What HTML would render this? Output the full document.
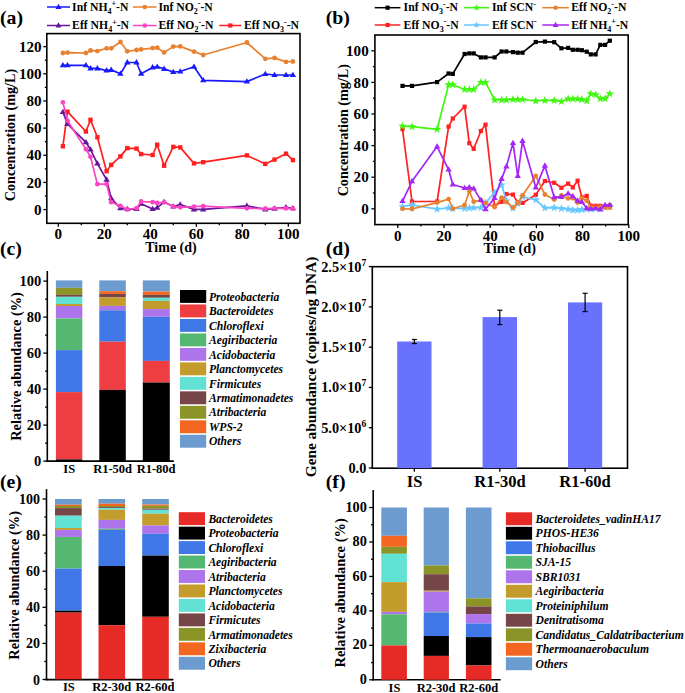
<!DOCTYPE html>
<html><head><meta charset="utf-8"><style>
html,body{margin:0;padding:0;background:#fff;}
svg{display:block;}
text{font-family:"Liberation Serif", serif;fill:#000;}
</style></head><body>
<svg width="685" height="693" viewBox="0 0 685 693">
<rect width="685" height="693" fill="#fff"/>
<text transform="translate(0,24.3) scale(1.1,1)" font-size="18" font-weight="bold">(a)</text>
<rect x="46.8" y="33.6" width="253.20" height="189.70" fill="none" stroke="#000" stroke-width="1.6"/>
<line x1="43.30" y1="209.60" x2="46.80" y2="209.60" stroke="#000" stroke-width="1.3"/>
<text x="41.60" y="214.70" font-size="15.1" text-anchor="end" font-style="normal" font-weight="bold" >0</text>
<line x1="44.80" y1="196.02" x2="46.80" y2="196.02" stroke="#000" stroke-width="1.3"/>
<line x1="43.30" y1="182.44" x2="46.80" y2="182.44" stroke="#000" stroke-width="1.3"/>
<text x="41.60" y="187.54" font-size="15.1" text-anchor="end" font-style="normal" font-weight="bold" >20</text>
<line x1="44.80" y1="168.86" x2="46.80" y2="168.86" stroke="#000" stroke-width="1.3"/>
<line x1="43.30" y1="155.28" x2="46.80" y2="155.28" stroke="#000" stroke-width="1.3"/>
<text x="41.60" y="160.38" font-size="15.1" text-anchor="end" font-style="normal" font-weight="bold" >40</text>
<line x1="44.80" y1="141.70" x2="46.80" y2="141.70" stroke="#000" stroke-width="1.3"/>
<line x1="43.30" y1="128.12" x2="46.80" y2="128.12" stroke="#000" stroke-width="1.3"/>
<text x="41.60" y="133.22" font-size="15.1" text-anchor="end" font-style="normal" font-weight="bold" >60</text>
<line x1="44.80" y1="114.54" x2="46.80" y2="114.54" stroke="#000" stroke-width="1.3"/>
<line x1="43.30" y1="100.96" x2="46.80" y2="100.96" stroke="#000" stroke-width="1.3"/>
<text x="41.60" y="106.06" font-size="15.1" text-anchor="end" font-style="normal" font-weight="bold" >80</text>
<line x1="44.80" y1="87.38" x2="46.80" y2="87.38" stroke="#000" stroke-width="1.3"/>
<line x1="43.30" y1="73.80" x2="46.80" y2="73.80" stroke="#000" stroke-width="1.3"/>
<text x="41.60" y="78.90" font-size="15.1" text-anchor="end" font-style="normal" font-weight="bold" >100</text>
<line x1="44.80" y1="60.22" x2="46.80" y2="60.22" stroke="#000" stroke-width="1.3"/>
<line x1="43.30" y1="46.64" x2="46.80" y2="46.64" stroke="#000" stroke-width="1.3"/>
<text x="41.60" y="51.74" font-size="15.1" text-anchor="end" font-style="normal" font-weight="bold" >120</text>
<line x1="58.30" y1="223.30" x2="58.30" y2="226.80" stroke="#000" stroke-width="1.3"/>
<text x="58.30" y="239.00" font-size="15.1" text-anchor="middle" font-style="normal" font-weight="bold" >0</text>
<line x1="81.30" y1="223.30" x2="81.30" y2="225.30" stroke="#000" stroke-width="1.3"/>
<line x1="104.30" y1="223.30" x2="104.30" y2="226.80" stroke="#000" stroke-width="1.3"/>
<text x="104.30" y="239.00" font-size="15.1" text-anchor="middle" font-style="normal" font-weight="bold" >20</text>
<line x1="127.30" y1="223.30" x2="127.30" y2="225.30" stroke="#000" stroke-width="1.3"/>
<line x1="150.30" y1="223.30" x2="150.30" y2="226.80" stroke="#000" stroke-width="1.3"/>
<text x="150.30" y="239.00" font-size="15.1" text-anchor="middle" font-style="normal" font-weight="bold" >40</text>
<line x1="173.30" y1="223.30" x2="173.30" y2="225.30" stroke="#000" stroke-width="1.3"/>
<line x1="196.30" y1="223.30" x2="196.30" y2="226.80" stroke="#000" stroke-width="1.3"/>
<text x="196.30" y="239.00" font-size="15.1" text-anchor="middle" font-style="normal" font-weight="bold" >60</text>
<line x1="219.30" y1="223.30" x2="219.30" y2="225.30" stroke="#000" stroke-width="1.3"/>
<line x1="242.30" y1="223.30" x2="242.30" y2="226.80" stroke="#000" stroke-width="1.3"/>
<text x="242.30" y="239.00" font-size="15.1" text-anchor="middle" font-style="normal" font-weight="bold" >80</text>
<line x1="265.30" y1="223.30" x2="265.30" y2="225.30" stroke="#000" stroke-width="1.3"/>
<line x1="288.30" y1="223.30" x2="288.30" y2="226.80" stroke="#000" stroke-width="1.3"/>
<text x="288.30" y="239.00" font-size="15.1" text-anchor="middle" font-style="normal" font-weight="bold" >100</text>
<text x="171.00" y="252.40" font-size="14" text-anchor="middle" font-style="normal" font-weight="bold" >Time (d)</text>
<text transform="translate(14.8,135) rotate(-90)" font-size="14.15" text-anchor="middle" font-weight="bold">Concentration (mg/L)</text>
<polyline points="62.9,53.0 67.5,52.6 85.9,53.0 90.5,50.5 97.4,51.1 106.6,48.3 111.2,48.3 120.4,42.0 127.3,51.3 136.5,50.0 141.1,49.4 152.6,48.1 157.2,47.7 164.1,52.4 173.3,46.6 180.2,46.4 194.0,51.6 203.2,55.0 246.9,42.5 265.3,58.8 274.5,57.9 286.0,61.9 292.9,61.5" fill="none" stroke="#e8812f" stroke-width="1.7" stroke-linejoin="round"/>
<circle cx="62.9" cy="53.0" r="2.40" fill="#e8812f"/>
<circle cx="67.5" cy="52.6" r="2.40" fill="#e8812f"/>
<circle cx="85.9" cy="53.0" r="2.40" fill="#e8812f"/>
<circle cx="90.5" cy="50.5" r="2.40" fill="#e8812f"/>
<circle cx="97.4" cy="51.1" r="2.40" fill="#e8812f"/>
<circle cx="106.6" cy="48.3" r="2.40" fill="#e8812f"/>
<circle cx="111.2" cy="48.3" r="2.40" fill="#e8812f"/>
<circle cx="120.4" cy="42.0" r="2.40" fill="#e8812f"/>
<circle cx="127.3" cy="51.3" r="2.40" fill="#e8812f"/>
<circle cx="136.5" cy="50.0" r="2.40" fill="#e8812f"/>
<circle cx="141.1" cy="49.4" r="2.40" fill="#e8812f"/>
<circle cx="152.6" cy="48.1" r="2.40" fill="#e8812f"/>
<circle cx="157.2" cy="47.7" r="2.40" fill="#e8812f"/>
<circle cx="164.1" cy="52.4" r="2.40" fill="#e8812f"/>
<circle cx="173.3" cy="46.6" r="2.40" fill="#e8812f"/>
<circle cx="180.2" cy="46.4" r="2.40" fill="#e8812f"/>
<circle cx="194.0" cy="51.6" r="2.40" fill="#e8812f"/>
<circle cx="203.2" cy="55.0" r="2.40" fill="#e8812f"/>
<circle cx="246.9" cy="42.5" r="2.40" fill="#e8812f"/>
<circle cx="265.3" cy="58.8" r="2.40" fill="#e8812f"/>
<circle cx="274.5" cy="57.9" r="2.40" fill="#e8812f"/>
<circle cx="286.0" cy="61.9" r="2.40" fill="#e8812f"/>
<circle cx="292.9" cy="61.5" r="2.40" fill="#e8812f"/>
<polyline points="62.9,65.3 67.5,65.3 85.9,65.3 90.5,68.4 97.4,68.4 106.6,70.6 111.2,69.9 120.4,73.7 127.3,62.5 136.5,62.5 141.1,73.7 152.6,67.4 157.2,66.8 164.1,68.9 173.3,72.0 180.2,71.5 194.0,66.7 203.2,80.3 246.9,81.6 265.3,74.0 274.5,75.0 286.0,75.0 292.9,75.0" fill="none" stroke="#1a1aff" stroke-width="1.7" stroke-linejoin="round"/>
<path d="M62.9,61.9L66.1,67.3L59.7,67.3Z" fill="#1a1aff"/>
<path d="M67.5,61.9L70.7,67.3L64.3,67.3Z" fill="#1a1aff"/>
<path d="M85.9,61.9L89.1,67.3L82.7,67.3Z" fill="#1a1aff"/>
<path d="M90.5,65.1L93.7,70.4L87.3,70.4Z" fill="#1a1aff"/>
<path d="M97.4,65.1L100.6,70.4L94.2,70.4Z" fill="#1a1aff"/>
<path d="M106.6,67.2L109.8,72.6L103.4,72.6Z" fill="#1a1aff"/>
<path d="M111.2,66.6L114.4,71.9L108.0,71.9Z" fill="#1a1aff"/>
<path d="M120.4,70.4L123.6,75.7L117.2,75.7Z" fill="#1a1aff"/>
<path d="M127.3,59.1L130.5,64.5L124.1,64.5Z" fill="#1a1aff"/>
<path d="M136.5,59.1L139.7,64.5L133.3,64.5Z" fill="#1a1aff"/>
<path d="M141.1,70.4L144.3,75.7L137.9,75.7Z" fill="#1a1aff"/>
<path d="M152.6,64.1L155.8,69.4L149.4,69.4Z" fill="#1a1aff"/>
<path d="M157.2,63.4L160.4,68.8L154.0,68.8Z" fill="#1a1aff"/>
<path d="M164.1,65.6L167.3,70.9L160.9,70.9Z" fill="#1a1aff"/>
<path d="M173.3,68.7L176.5,74.0L170.1,74.0Z" fill="#1a1aff"/>
<path d="M180.2,68.2L183.4,73.5L177.0,73.5Z" fill="#1a1aff"/>
<path d="M194.0,63.4L197.2,68.7L190.8,68.7Z" fill="#1a1aff"/>
<path d="M203.2,77.0L206.4,82.3L200.0,82.3Z" fill="#1a1aff"/>
<path d="M246.9,78.2L250.1,83.6L243.7,83.6Z" fill="#1a1aff"/>
<path d="M265.3,70.7L268.5,76.0L262.1,76.0Z" fill="#1a1aff"/>
<path d="M274.5,71.7L277.7,77.0L271.3,77.0Z" fill="#1a1aff"/>
<path d="M286.0,71.7L289.2,77.0L282.8,77.0Z" fill="#1a1aff"/>
<path d="M292.9,71.7L296.1,77.0L289.7,77.0Z" fill="#1a1aff"/>
<polyline points="62.9,146.3 67.5,111.7 85.9,131.5 90.5,119.8 97.4,137.3 106.6,171.2 111.2,164.9 120.4,156.4 127.3,148.1 136.5,148.6 141.1,154.1 152.6,155.0 157.2,144.7 164.1,165.7 173.3,146.9 180.2,147.4 194.0,163.4 203.2,162.2 246.9,155.4 265.3,163.9 274.5,159.6 286.0,153.7 292.9,160.1" fill="none" stroke="#ff1f1f" stroke-width="1.7" stroke-linejoin="round"/>
<rect x="60.7" y="144.1" width="4.4" height="4.4" fill="#ff1f1f"/>
<rect x="65.3" y="109.5" width="4.4" height="4.4" fill="#ff1f1f"/>
<rect x="83.7" y="129.3" width="4.4" height="4.4" fill="#ff1f1f"/>
<rect x="88.3" y="117.6" width="4.4" height="4.4" fill="#ff1f1f"/>
<rect x="95.2" y="135.1" width="4.4" height="4.4" fill="#ff1f1f"/>
<rect x="104.4" y="169.0" width="4.4" height="4.4" fill="#ff1f1f"/>
<rect x="109.0" y="162.7" width="4.4" height="4.4" fill="#ff1f1f"/>
<rect x="118.2" y="154.2" width="4.4" height="4.4" fill="#ff1f1f"/>
<rect x="125.1" y="145.9" width="4.4" height="4.4" fill="#ff1f1f"/>
<rect x="134.3" y="146.4" width="4.4" height="4.4" fill="#ff1f1f"/>
<rect x="138.9" y="151.9" width="4.4" height="4.4" fill="#ff1f1f"/>
<rect x="150.4" y="152.8" width="4.4" height="4.4" fill="#ff1f1f"/>
<rect x="155.0" y="142.5" width="4.4" height="4.4" fill="#ff1f1f"/>
<rect x="161.9" y="163.5" width="4.4" height="4.4" fill="#ff1f1f"/>
<rect x="171.1" y="144.7" width="4.4" height="4.4" fill="#ff1f1f"/>
<rect x="178.0" y="145.2" width="4.4" height="4.4" fill="#ff1f1f"/>
<rect x="191.8" y="161.2" width="4.4" height="4.4" fill="#ff1f1f"/>
<rect x="201.0" y="160.0" width="4.4" height="4.4" fill="#ff1f1f"/>
<rect x="244.7" y="153.2" width="4.4" height="4.4" fill="#ff1f1f"/>
<rect x="263.1" y="161.7" width="4.4" height="4.4" fill="#ff1f1f"/>
<rect x="272.3" y="157.4" width="4.4" height="4.4" fill="#ff1f1f"/>
<rect x="283.8" y="151.5" width="4.4" height="4.4" fill="#ff1f1f"/>
<rect x="290.7" y="157.9" width="4.4" height="4.4" fill="#ff1f1f"/>
<polyline points="62.9,112.0 67.5,123.9 85.9,142.3 90.5,149.5 97.4,163.6 106.6,179.7 111.2,198.3 120.4,208.2 127.3,209.1 136.5,209.1 141.1,203.7 152.6,209.1 157.2,207.7 164.1,202.1 173.3,206.6 180.2,204.5 194.0,209.4 203.2,209.4 246.9,205.8 265.3,209.4 274.5,208.7 286.0,207.3 292.9,208.3" fill="none" stroke="#64169c" stroke-width="1.7" stroke-linejoin="round"/>
<path d="M62.9,108.7L66.1,114.0L59.7,114.0Z" fill="#64169c"/>
<path d="M67.5,120.6L70.7,125.9L64.3,125.9Z" fill="#64169c"/>
<path d="M85.9,139.0L89.1,144.3L82.7,144.3Z" fill="#64169c"/>
<path d="M90.5,146.2L93.7,151.5L87.3,151.5Z" fill="#64169c"/>
<path d="M97.4,160.2L100.6,165.6L94.2,165.6Z" fill="#64169c"/>
<path d="M106.6,176.3L109.8,181.7L103.4,181.7Z" fill="#64169c"/>
<path d="M111.2,195.0L114.4,200.3L108.0,200.3Z" fill="#64169c"/>
<path d="M120.4,204.8L123.6,210.2L117.2,210.2Z" fill="#64169c"/>
<path d="M127.3,205.8L130.5,211.1L124.1,211.1Z" fill="#64169c"/>
<path d="M136.5,205.8L139.7,211.1L133.3,211.1Z" fill="#64169c"/>
<path d="M141.1,200.3L144.3,205.7L137.9,205.7Z" fill="#64169c"/>
<path d="M152.6,205.8L155.8,211.1L149.4,211.1Z" fill="#64169c"/>
<path d="M157.2,204.3L160.4,209.7L154.0,209.7Z" fill="#64169c"/>
<path d="M164.1,198.8L167.3,204.1L160.9,204.1Z" fill="#64169c"/>
<path d="M173.3,203.2L176.5,208.6L170.1,208.6Z" fill="#64169c"/>
<path d="M180.2,201.2L183.4,206.5L177.0,206.5Z" fill="#64169c"/>
<path d="M194.0,206.1L197.2,211.4L190.8,211.4Z" fill="#64169c"/>
<path d="M203.2,206.1L206.4,211.4L200.0,211.4Z" fill="#64169c"/>
<path d="M246.9,202.5L250.1,207.8L243.7,207.8Z" fill="#64169c"/>
<path d="M265.3,206.1L268.5,211.4L262.1,211.4Z" fill="#64169c"/>
<path d="M274.5,205.3L277.7,210.7L271.3,210.7Z" fill="#64169c"/>
<path d="M286.0,204.0L289.2,209.3L282.8,209.3Z" fill="#64169c"/>
<path d="M292.9,205.0L296.1,210.3L289.7,210.3Z" fill="#64169c"/>
<polyline points="62.9,102.3 67.5,120.7 85.9,149.2 90.5,156.8 97.4,184.2 106.6,184.2 111.2,202.2 120.4,205.8 127.3,209.5 136.5,208.2 141.1,201.5 152.6,202.2 157.2,202.9 164.1,202.3 173.3,206.6 180.2,207.3 194.0,206.6 203.2,206.2 246.9,208.3 265.3,208.7 274.5,208.3 286.0,208.3 292.9,208.7" fill="none" stroke="#fc45c2" stroke-width="1.7" stroke-linejoin="round"/>
<circle cx="62.9" cy="102.3" r="2.40" fill="#fc45c2"/>
<circle cx="67.5" cy="120.7" r="2.40" fill="#fc45c2"/>
<circle cx="85.9" cy="149.2" r="2.40" fill="#fc45c2"/>
<circle cx="90.5" cy="156.8" r="2.40" fill="#fc45c2"/>
<circle cx="97.4" cy="184.2" r="2.40" fill="#fc45c2"/>
<circle cx="106.6" cy="184.2" r="2.40" fill="#fc45c2"/>
<circle cx="111.2" cy="202.2" r="2.40" fill="#fc45c2"/>
<circle cx="120.4" cy="205.8" r="2.40" fill="#fc45c2"/>
<circle cx="127.3" cy="209.5" r="2.40" fill="#fc45c2"/>
<circle cx="136.5" cy="208.2" r="2.40" fill="#fc45c2"/>
<circle cx="141.1" cy="201.5" r="2.40" fill="#fc45c2"/>
<circle cx="152.6" cy="202.2" r="2.40" fill="#fc45c2"/>
<circle cx="157.2" cy="202.9" r="2.40" fill="#fc45c2"/>
<circle cx="164.1" cy="202.3" r="2.40" fill="#fc45c2"/>
<circle cx="173.3" cy="206.6" r="2.40" fill="#fc45c2"/>
<circle cx="180.2" cy="207.3" r="2.40" fill="#fc45c2"/>
<circle cx="194.0" cy="206.6" r="2.40" fill="#fc45c2"/>
<circle cx="203.2" cy="206.2" r="2.40" fill="#fc45c2"/>
<circle cx="246.9" cy="208.3" r="2.40" fill="#fc45c2"/>
<circle cx="265.3" cy="208.7" r="2.40" fill="#fc45c2"/>
<circle cx="274.5" cy="208.3" r="2.40" fill="#fc45c2"/>
<circle cx="286.0" cy="208.3" r="2.40" fill="#fc45c2"/>
<circle cx="292.9" cy="208.7" r="2.40" fill="#fc45c2"/>
<line x1="47.00" y1="7.00" x2="70.00" y2="7.00" stroke="#1a1aff" stroke-width="1.5"/>
<path d="M58.5,3.8L61.5,8.9L55.5,8.9Z" fill="#1a1aff"/>
<text x="72.1" y="10.5" font-size="11.7" font-weight="bold">Inf NH<tspan font-size="8" dy="3">4</tspan><tspan font-size="8" dy="-7.5">+</tspan><tspan dy="4.5">-N</tspan></text>
<line x1="133.00" y1="7.00" x2="156.50" y2="7.00" stroke="#e8812f" stroke-width="1.5"/>
<circle cx="144.8" cy="7.0" r="2.28" fill="#e8812f"/>
<text x="158.4" y="10.5" font-size="11.7" font-weight="bold">Inf NO<tspan font-size="8" dy="3">2</tspan><tspan font-size="8" dy="-7.5">-</tspan><tspan dy="4.5">-N</tspan></text>
<line x1="47.00" y1="25.50" x2="70.00" y2="25.50" stroke="#64169c" stroke-width="1.5"/>
<path d="M58.5,22.3L61.5,27.4L55.5,27.4Z" fill="#64169c"/>
<text x="72.1" y="29.0" font-size="11.7" font-weight="bold">Eff NH<tspan font-size="8" dy="3">4</tspan><tspan font-size="8" dy="-7.5">+</tspan><tspan dy="4.5">-N</tspan></text>
<line x1="133.00" y1="25.50" x2="156.50" y2="25.50" stroke="#fc45c2" stroke-width="1.5"/>
<circle cx="144.8" cy="25.5" r="2.28" fill="#fc45c2"/>
<text x="158.4" y="29.0" font-size="11.7" font-weight="bold">Eff NO<tspan font-size="8" dy="3">2</tspan><tspan font-size="8" dy="-7.5">-</tspan><tspan dy="4.5">-N</tspan></text>
<line x1="219.30" y1="25.50" x2="241.20" y2="25.50" stroke="#ff1f1f" stroke-width="1.5"/>
<rect x="228.2" y="23.4" width="4.2" height="4.2" fill="#ff1f1f"/>
<text x="244" y="29.0" font-size="11.7" font-weight="bold">Eff NO<tspan font-size="8" dy="3">3</tspan><tspan font-size="8" dy="-7.5">-</tspan><tspan dy="4.5">-N</tspan></text>
<text transform="translate(325.7,24.3) scale(1.1,1)" font-size="18" font-weight="bold">(b)</text>
<rect x="374.9" y="35" width="253.30" height="189.60" fill="none" stroke="#000" stroke-width="1.6"/>
<line x1="371.40" y1="208.80" x2="374.90" y2="208.80" stroke="#000" stroke-width="1.3"/>
<text x="368.70" y="213.90" font-size="15.1" text-anchor="end" font-style="normal" font-weight="bold" >0</text>
<line x1="372.90" y1="193.00" x2="374.90" y2="193.00" stroke="#000" stroke-width="1.3"/>
<line x1="371.40" y1="177.20" x2="374.90" y2="177.20" stroke="#000" stroke-width="1.3"/>
<text x="368.70" y="182.30" font-size="15.1" text-anchor="end" font-style="normal" font-weight="bold" >20</text>
<line x1="372.90" y1="161.40" x2="374.90" y2="161.40" stroke="#000" stroke-width="1.3"/>
<line x1="371.40" y1="145.60" x2="374.90" y2="145.60" stroke="#000" stroke-width="1.3"/>
<text x="368.70" y="150.70" font-size="15.1" text-anchor="end" font-style="normal" font-weight="bold" >40</text>
<line x1="372.90" y1="129.80" x2="374.90" y2="129.80" stroke="#000" stroke-width="1.3"/>
<line x1="371.40" y1="114.00" x2="374.90" y2="114.00" stroke="#000" stroke-width="1.3"/>
<text x="368.70" y="119.10" font-size="15.1" text-anchor="end" font-style="normal" font-weight="bold" >60</text>
<line x1="372.90" y1="98.20" x2="374.90" y2="98.20" stroke="#000" stroke-width="1.3"/>
<line x1="371.40" y1="82.40" x2="374.90" y2="82.40" stroke="#000" stroke-width="1.3"/>
<text x="368.70" y="87.50" font-size="15.1" text-anchor="end" font-style="normal" font-weight="bold" >80</text>
<line x1="372.90" y1="66.60" x2="374.90" y2="66.60" stroke="#000" stroke-width="1.3"/>
<line x1="371.40" y1="50.80" x2="374.90" y2="50.80" stroke="#000" stroke-width="1.3"/>
<text x="368.70" y="55.90" font-size="15.1" text-anchor="end" font-style="normal" font-weight="bold" >100</text>
<line x1="397.80" y1="224.60" x2="397.80" y2="228.10" stroke="#000" stroke-width="1.3"/>
<text x="397.80" y="240.50" font-size="15.1" text-anchor="middle" font-style="normal" font-weight="bold" >0</text>
<line x1="420.90" y1="224.60" x2="420.90" y2="226.60" stroke="#000" stroke-width="1.3"/>
<line x1="444.00" y1="224.60" x2="444.00" y2="228.10" stroke="#000" stroke-width="1.3"/>
<text x="444.00" y="240.50" font-size="15.1" text-anchor="middle" font-style="normal" font-weight="bold" >20</text>
<line x1="467.10" y1="224.60" x2="467.10" y2="226.60" stroke="#000" stroke-width="1.3"/>
<line x1="490.20" y1="224.60" x2="490.20" y2="228.10" stroke="#000" stroke-width="1.3"/>
<text x="490.20" y="240.50" font-size="15.1" text-anchor="middle" font-style="normal" font-weight="bold" >40</text>
<line x1="513.30" y1="224.60" x2="513.30" y2="226.60" stroke="#000" stroke-width="1.3"/>
<line x1="536.40" y1="224.60" x2="536.40" y2="228.10" stroke="#000" stroke-width="1.3"/>
<text x="536.40" y="240.50" font-size="15.1" text-anchor="middle" font-style="normal" font-weight="bold" >60</text>
<line x1="559.50" y1="224.60" x2="559.50" y2="226.60" stroke="#000" stroke-width="1.3"/>
<line x1="582.60" y1="224.60" x2="582.60" y2="228.10" stroke="#000" stroke-width="1.3"/>
<text x="582.60" y="240.50" font-size="15.1" text-anchor="middle" font-style="normal" font-weight="bold" >80</text>
<line x1="605.70" y1="224.60" x2="605.70" y2="226.60" stroke="#000" stroke-width="1.3"/>
<line x1="628.80" y1="224.60" x2="628.80" y2="228.10" stroke="#000" stroke-width="1.3"/>
<text x="628.80" y="240.50" font-size="15.1" text-anchor="middle" font-style="normal" font-weight="bold" >100</text>
<text x="509.80" y="252.80" font-size="14.3" text-anchor="middle" font-style="normal" font-weight="bold" >Time (d)</text>
<text transform="translate(347.6,130.2) rotate(-90)" font-size="14.15" text-anchor="middle" font-weight="bold">Concentration (mg/L)</text>
<polyline points="402.5,85.9 412.0,85.9 437.1,82.1 448.6,73.5 452.8,73.9 464.6,54.0 469.3,53.4 473.7,53.4 480.9,57.4 485.5,57.4 494.6,57.4 501.6,51.5 506.4,51.5 513.0,52.1 517.8,52.7 522.5,52.7 535.8,42.0 544.9,41.6 554.2,42.2 561.4,48.3 568.1,47.9 572.8,49.8 577.6,49.8 581.9,50.2 586.7,51.7 590.8,54.4 595.6,54.4 600.3,44.9 605.1,44.9 609.8,40.7" fill="none" stroke="#000" stroke-width="1.7" stroke-linejoin="round"/>
<rect x="400.4" y="83.8" width="4.2" height="4.2" fill="#000"/>
<rect x="409.9" y="83.8" width="4.2" height="4.2" fill="#000"/>
<rect x="435.0" y="80.0" width="4.2" height="4.2" fill="#000"/>
<rect x="446.5" y="71.4" width="4.2" height="4.2" fill="#000"/>
<rect x="450.7" y="71.8" width="4.2" height="4.2" fill="#000"/>
<rect x="462.5" y="51.9" width="4.2" height="4.2" fill="#000"/>
<rect x="467.2" y="51.3" width="4.2" height="4.2" fill="#000"/>
<rect x="471.6" y="51.3" width="4.2" height="4.2" fill="#000"/>
<rect x="478.8" y="55.3" width="4.2" height="4.2" fill="#000"/>
<rect x="483.4" y="55.3" width="4.2" height="4.2" fill="#000"/>
<rect x="492.5" y="55.3" width="4.2" height="4.2" fill="#000"/>
<rect x="499.5" y="49.4" width="4.2" height="4.2" fill="#000"/>
<rect x="504.3" y="49.4" width="4.2" height="4.2" fill="#000"/>
<rect x="510.9" y="50.0" width="4.2" height="4.2" fill="#000"/>
<rect x="515.7" y="50.6" width="4.2" height="4.2" fill="#000"/>
<rect x="520.4" y="50.6" width="4.2" height="4.2" fill="#000"/>
<rect x="533.7" y="39.9" width="4.2" height="4.2" fill="#000"/>
<rect x="542.8" y="39.5" width="4.2" height="4.2" fill="#000"/>
<rect x="552.1" y="40.1" width="4.2" height="4.2" fill="#000"/>
<rect x="559.3" y="46.2" width="4.2" height="4.2" fill="#000"/>
<rect x="566.0" y="45.8" width="4.2" height="4.2" fill="#000"/>
<rect x="570.7" y="47.7" width="4.2" height="4.2" fill="#000"/>
<rect x="575.5" y="47.7" width="4.2" height="4.2" fill="#000"/>
<rect x="579.8" y="48.1" width="4.2" height="4.2" fill="#000"/>
<rect x="584.6" y="49.6" width="4.2" height="4.2" fill="#000"/>
<rect x="588.7" y="52.3" width="4.2" height="4.2" fill="#000"/>
<rect x="593.5" y="52.3" width="4.2" height="4.2" fill="#000"/>
<rect x="598.2" y="42.8" width="4.2" height="4.2" fill="#000"/>
<rect x="603.0" y="42.8" width="4.2" height="4.2" fill="#000"/>
<rect x="607.7" y="38.6" width="4.2" height="4.2" fill="#000"/>
<polyline points="402.5,129.1 412.0,201.5 437.1,201.5 448.6,126.6 452.8,118.5 464.6,106.7 469.3,143.2 473.7,148.8 480.9,131.0 485.5,124.7 494.6,206.0 501.6,201.8 506.4,194.0 513.0,194.6 517.8,202.6 522.5,202.9 535.8,194.8 544.9,181.0 554.2,182.8 561.4,187.8 568.1,183.6 572.8,187.4 577.6,180.7 581.9,197.4 586.7,195.9 590.8,205.8 595.6,205.8 600.3,205.8 605.1,206.2 609.8,205.4" fill="none" stroke="#ff2020" stroke-width="1.7" stroke-linejoin="round"/>
<rect x="400.4" y="127.0" width="4.2" height="4.2" fill="#ff2020"/>
<rect x="409.9" y="199.4" width="4.2" height="4.2" fill="#ff2020"/>
<rect x="435.0" y="199.4" width="4.2" height="4.2" fill="#ff2020"/>
<rect x="446.5" y="124.5" width="4.2" height="4.2" fill="#ff2020"/>
<rect x="450.7" y="116.4" width="4.2" height="4.2" fill="#ff2020"/>
<rect x="462.5" y="104.6" width="4.2" height="4.2" fill="#ff2020"/>
<rect x="467.2" y="141.1" width="4.2" height="4.2" fill="#ff2020"/>
<rect x="471.6" y="146.7" width="4.2" height="4.2" fill="#ff2020"/>
<rect x="478.8" y="128.9" width="4.2" height="4.2" fill="#ff2020"/>
<rect x="483.4" y="122.6" width="4.2" height="4.2" fill="#ff2020"/>
<rect x="492.5" y="203.9" width="4.2" height="4.2" fill="#ff2020"/>
<rect x="499.5" y="199.7" width="4.2" height="4.2" fill="#ff2020"/>
<rect x="504.3" y="191.9" width="4.2" height="4.2" fill="#ff2020"/>
<rect x="510.9" y="192.5" width="4.2" height="4.2" fill="#ff2020"/>
<rect x="515.7" y="200.5" width="4.2" height="4.2" fill="#ff2020"/>
<rect x="520.4" y="200.8" width="4.2" height="4.2" fill="#ff2020"/>
<rect x="533.7" y="192.7" width="4.2" height="4.2" fill="#ff2020"/>
<rect x="542.8" y="178.9" width="4.2" height="4.2" fill="#ff2020"/>
<rect x="552.1" y="180.7" width="4.2" height="4.2" fill="#ff2020"/>
<rect x="559.3" y="185.7" width="4.2" height="4.2" fill="#ff2020"/>
<rect x="566.0" y="181.5" width="4.2" height="4.2" fill="#ff2020"/>
<rect x="570.7" y="185.3" width="4.2" height="4.2" fill="#ff2020"/>
<rect x="575.5" y="178.6" width="4.2" height="4.2" fill="#ff2020"/>
<rect x="579.8" y="195.3" width="4.2" height="4.2" fill="#ff2020"/>
<rect x="584.6" y="193.8" width="4.2" height="4.2" fill="#ff2020"/>
<rect x="588.7" y="203.7" width="4.2" height="4.2" fill="#ff2020"/>
<rect x="593.5" y="203.7" width="4.2" height="4.2" fill="#ff2020"/>
<rect x="598.2" y="203.7" width="4.2" height="4.2" fill="#ff2020"/>
<rect x="603.0" y="204.1" width="4.2" height="4.2" fill="#ff2020"/>
<rect x="607.7" y="203.3" width="4.2" height="4.2" fill="#ff2020"/>
<polyline points="402.5,126.1 412.0,126.7 437.1,129.3 448.6,84.7 452.8,84.7 464.6,89.5 469.3,89.5 473.7,89.5 480.9,82.4 485.5,82.4 494.6,99.9 501.6,99.9 506.4,99.9 513.0,99.5 517.8,99.5 522.5,99.5 535.8,100.9 544.9,100.5 554.2,100.5 561.4,101.4 568.1,99.0 572.8,99.0 577.6,99.0 581.9,99.5 586.7,101.0 590.8,93.8 595.6,94.8 600.3,98.6 605.1,98.6 609.8,93.8" fill="none" stroke="#40f810" stroke-width="1.7" stroke-linejoin="round"/>
<polygon points="402.5,121.7 403.6,124.6 406.7,124.7 404.2,126.7 405.1,129.7 402.5,127.9 399.9,129.7 400.8,126.7 398.3,124.7 401.4,124.6" fill="#40f810"/>
<polygon points="412.0,122.3 413.1,125.2 416.2,125.3 413.7,127.3 414.6,130.3 412.0,128.5 409.4,130.3 410.3,127.3 407.8,125.3 410.9,125.2" fill="#40f810"/>
<polygon points="437.1,124.9 438.2,127.8 441.3,127.9 438.8,129.9 439.7,132.9 437.1,131.1 434.5,132.9 435.4,129.9 432.9,127.9 436.0,127.8" fill="#40f810"/>
<polygon points="448.6,80.3 449.7,83.2 452.8,83.3 450.3,85.3 451.2,88.3 448.6,86.5 446.0,88.3 446.9,85.3 444.4,83.3 447.5,83.2" fill="#40f810"/>
<polygon points="452.8,80.3 453.9,83.2 457.0,83.3 454.5,85.3 455.4,88.3 452.8,86.5 450.2,88.3 451.1,85.3 448.6,83.3 451.7,83.2" fill="#40f810"/>
<polygon points="464.6,85.1 465.7,88.0 468.8,88.1 466.3,90.1 467.2,93.1 464.6,91.3 462.0,93.1 462.9,90.1 460.4,88.1 463.5,88.0" fill="#40f810"/>
<polygon points="469.3,85.1 470.4,88.0 473.5,88.1 471.0,90.1 471.9,93.1 469.3,91.3 466.7,93.1 467.6,90.1 465.1,88.1 468.2,88.0" fill="#40f810"/>
<polygon points="473.7,85.1 474.8,88.0 477.9,88.1 475.4,90.1 476.3,93.1 473.7,91.3 471.1,93.1 472.0,90.1 469.5,88.1 472.6,88.0" fill="#40f810"/>
<polygon points="480.9,78.0 482.0,80.9 485.1,81.0 482.6,83.0 483.5,86.0 480.9,84.2 478.3,86.0 479.2,83.0 476.7,81.0 479.8,80.9" fill="#40f810"/>
<polygon points="485.5,78.0 486.6,80.9 489.7,81.0 487.2,83.0 488.1,86.0 485.5,84.2 482.9,86.0 483.8,83.0 481.3,81.0 484.4,80.9" fill="#40f810"/>
<polygon points="494.6,95.5 495.7,98.4 498.8,98.5 496.3,100.5 497.2,103.5 494.6,101.7 492.0,103.5 492.9,100.5 490.4,98.5 493.5,98.4" fill="#40f810"/>
<polygon points="501.6,95.5 502.7,98.4 505.8,98.5 503.3,100.5 504.2,103.5 501.6,101.7 499.0,103.5 499.9,100.5 497.4,98.5 500.5,98.4" fill="#40f810"/>
<polygon points="506.4,95.5 507.5,98.4 510.6,98.5 508.1,100.5 509.0,103.5 506.4,101.7 503.8,103.5 504.7,100.5 502.2,98.5 505.3,98.4" fill="#40f810"/>
<polygon points="513.0,95.1 514.1,98.0 517.2,98.1 514.7,100.1 515.6,103.1 513.0,101.3 510.4,103.1 511.3,100.1 508.8,98.1 511.9,98.0" fill="#40f810"/>
<polygon points="517.8,95.1 518.9,98.0 522.0,98.1 519.5,100.1 520.4,103.1 517.8,101.3 515.2,103.1 516.1,100.1 513.6,98.1 516.7,98.0" fill="#40f810"/>
<polygon points="522.5,95.1 523.6,98.0 526.7,98.1 524.2,100.1 525.1,103.1 522.5,101.3 519.9,103.1 520.8,100.1 518.3,98.1 521.4,98.0" fill="#40f810"/>
<polygon points="535.8,96.5 536.9,99.4 540.0,99.5 537.5,101.5 538.4,104.5 535.8,102.7 533.2,104.5 534.1,101.5 531.6,99.5 534.7,99.4" fill="#40f810"/>
<polygon points="544.9,96.1 546.0,99.0 549.1,99.1 546.6,101.1 547.5,104.1 544.9,102.3 542.3,104.1 543.2,101.1 540.7,99.1 543.8,99.0" fill="#40f810"/>
<polygon points="554.2,96.1 555.3,99.0 558.4,99.1 555.9,101.1 556.8,104.1 554.2,102.3 551.6,104.1 552.5,101.1 550.0,99.1 553.1,99.0" fill="#40f810"/>
<polygon points="561.4,97.0 562.5,99.9 565.6,100.0 563.1,102.0 564.0,105.0 561.4,103.2 558.8,105.0 559.7,102.0 557.2,100.0 560.3,99.9" fill="#40f810"/>
<polygon points="568.1,94.6 569.2,97.5 572.3,97.6 569.8,99.6 570.7,102.6 568.1,100.8 565.5,102.6 566.4,99.6 563.9,97.6 567.0,97.5" fill="#40f810"/>
<polygon points="572.8,94.6 573.9,97.5 577.0,97.6 574.5,99.6 575.4,102.6 572.8,100.8 570.2,102.6 571.1,99.6 568.6,97.6 571.7,97.5" fill="#40f810"/>
<polygon points="577.6,94.6 578.7,97.5 581.8,97.6 579.3,99.6 580.2,102.6 577.6,100.8 575.0,102.6 575.9,99.6 573.4,97.6 576.5,97.5" fill="#40f810"/>
<polygon points="581.9,95.1 583.0,98.0 586.1,98.1 583.6,100.1 584.5,103.1 581.9,101.3 579.3,103.1 580.2,100.1 577.7,98.1 580.8,98.0" fill="#40f810"/>
<polygon points="586.7,96.6 587.8,99.5 590.9,99.6 588.4,101.6 589.3,104.6 586.7,102.8 584.1,104.6 585.0,101.6 582.5,99.6 585.6,99.5" fill="#40f810"/>
<polygon points="590.8,89.4 591.9,92.3 595.0,92.4 592.5,94.4 593.4,97.4 590.8,95.6 588.2,97.4 589.1,94.4 586.6,92.4 589.7,92.3" fill="#40f810"/>
<polygon points="595.6,90.4 596.7,93.3 599.8,93.4 597.3,95.4 598.2,98.4 595.6,96.6 593.0,98.4 593.9,95.4 591.4,93.4 594.5,93.3" fill="#40f810"/>
<polygon points="600.3,94.2 601.4,97.1 604.5,97.2 602.0,99.2 602.9,102.2 600.3,100.4 597.7,102.2 598.6,99.2 596.1,97.2 599.2,97.1" fill="#40f810"/>
<polygon points="605.1,94.2 606.2,97.1 609.3,97.2 606.8,99.2 607.7,102.2 605.1,100.4 602.5,102.2 603.4,99.2 600.9,97.2 604.0,97.1" fill="#40f810"/>
<polygon points="609.8,89.4 610.9,92.3 614.0,92.4 611.5,94.4 612.4,97.4 609.8,95.6 607.2,97.4 608.1,94.4 605.6,92.4 608.7,92.3" fill="#40f810"/>
<polyline points="402.5,206.7 412.0,205.0 437.1,209.1 448.6,207.9 452.8,208.5 464.6,208.5 469.3,208.0 473.7,207.8 480.9,207.7 485.5,202.9 494.6,192.6 501.6,184.9 506.4,200.8 513.0,208.2 517.8,203.7 522.5,196.8 535.8,199.8 544.9,208.0 554.2,207.7 561.4,208.6 568.1,209.2 572.8,210.1 577.6,210.1 581.9,209.6 586.7,209.2 590.8,209.2 595.6,208.8 600.3,208.3 605.1,207.5 609.8,206.4" fill="none" stroke="#66c8ff" stroke-width="1.7" stroke-linejoin="round"/>
<polygon points="402.5,202.3 403.6,205.2 406.7,205.3 404.2,207.3 405.1,210.3 402.5,208.5 399.9,210.3 400.8,207.3 398.3,205.3 401.4,205.2" fill="#66c8ff"/>
<polygon points="412.0,200.6 413.1,203.5 416.2,203.6 413.7,205.6 414.6,208.6 412.0,206.8 409.4,208.6 410.3,205.6 407.8,203.6 410.9,203.5" fill="#66c8ff"/>
<polygon points="437.1,204.7 438.2,207.6 441.3,207.7 438.8,209.7 439.7,212.7 437.1,210.9 434.5,212.7 435.4,209.7 432.9,207.7 436.0,207.6" fill="#66c8ff"/>
<polygon points="448.6,203.5 449.7,206.4 452.8,206.5 450.3,208.5 451.2,211.5 448.6,209.7 446.0,211.5 446.9,208.5 444.4,206.5 447.5,206.4" fill="#66c8ff"/>
<polygon points="452.8,204.1 453.9,207.0 457.0,207.1 454.5,209.1 455.4,212.1 452.8,210.3 450.2,212.1 451.1,209.1 448.6,207.1 451.7,207.0" fill="#66c8ff"/>
<polygon points="464.6,204.1 465.7,207.0 468.8,207.1 466.3,209.1 467.2,212.1 464.6,210.3 462.0,212.1 462.9,209.1 460.4,207.1 463.5,207.0" fill="#66c8ff"/>
<polygon points="469.3,203.6 470.4,206.5 473.5,206.6 471.0,208.6 471.9,211.6 469.3,209.8 466.7,211.6 467.6,208.6 465.1,206.6 468.2,206.5" fill="#66c8ff"/>
<polygon points="473.7,203.4 474.8,206.3 477.9,206.4 475.4,208.4 476.3,211.4 473.7,209.6 471.1,211.4 472.0,208.4 469.5,206.4 472.6,206.3" fill="#66c8ff"/>
<polygon points="480.9,203.3 482.0,206.2 485.1,206.3 482.6,208.3 483.5,211.3 480.9,209.5 478.3,211.3 479.2,208.3 476.7,206.3 479.8,206.2" fill="#66c8ff"/>
<polygon points="485.5,198.5 486.6,201.4 489.7,201.5 487.2,203.5 488.1,206.5 485.5,204.7 482.9,206.5 483.8,203.5 481.3,201.5 484.4,201.4" fill="#66c8ff"/>
<polygon points="494.6,188.2 495.7,191.1 498.8,191.2 496.3,193.2 497.2,196.2 494.6,194.4 492.0,196.2 492.9,193.2 490.4,191.2 493.5,191.1" fill="#66c8ff"/>
<polygon points="501.6,180.5 502.7,183.4 505.8,183.5 503.3,185.5 504.2,188.5 501.6,186.7 499.0,188.5 499.9,185.5 497.4,183.5 500.5,183.4" fill="#66c8ff"/>
<polygon points="506.4,196.4 507.5,199.3 510.6,199.4 508.1,201.4 509.0,204.4 506.4,202.6 503.8,204.4 504.7,201.4 502.2,199.4 505.3,199.3" fill="#66c8ff"/>
<polygon points="513.0,203.8 514.1,206.7 517.2,206.8 514.7,208.8 515.6,211.8 513.0,210.0 510.4,211.8 511.3,208.8 508.8,206.8 511.9,206.7" fill="#66c8ff"/>
<polygon points="517.8,199.3 518.9,202.2 522.0,202.3 519.5,204.3 520.4,207.3 517.8,205.5 515.2,207.3 516.1,204.3 513.6,202.3 516.7,202.2" fill="#66c8ff"/>
<polygon points="522.5,192.4 523.6,195.3 526.7,195.4 524.2,197.4 525.1,200.4 522.5,198.6 519.9,200.4 520.8,197.4 518.3,195.4 521.4,195.3" fill="#66c8ff"/>
<polygon points="535.8,195.4 536.9,198.3 540.0,198.4 537.5,200.4 538.4,203.4 535.8,201.6 533.2,203.4 534.1,200.4 531.6,198.4 534.7,198.3" fill="#66c8ff"/>
<polygon points="544.9,203.6 546.0,206.5 549.1,206.6 546.6,208.6 547.5,211.6 544.9,209.8 542.3,211.6 543.2,208.6 540.7,206.6 543.8,206.5" fill="#66c8ff"/>
<polygon points="554.2,203.3 555.3,206.2 558.4,206.3 555.9,208.3 556.8,211.3 554.2,209.5 551.6,211.3 552.5,208.3 550.0,206.3 553.1,206.2" fill="#66c8ff"/>
<polygon points="561.4,204.2 562.5,207.1 565.6,207.2 563.1,209.2 564.0,212.2 561.4,210.4 558.8,212.2 559.7,209.2 557.2,207.2 560.3,207.1" fill="#66c8ff"/>
<polygon points="568.1,204.8 569.2,207.7 572.3,207.8 569.8,209.8 570.7,212.8 568.1,211.0 565.5,212.8 566.4,209.8 563.9,207.8 567.0,207.7" fill="#66c8ff"/>
<polygon points="572.8,205.7 573.9,208.6 577.0,208.7 574.5,210.7 575.4,213.7 572.8,211.9 570.2,213.7 571.1,210.7 568.6,208.7 571.7,208.6" fill="#66c8ff"/>
<polygon points="577.6,205.7 578.7,208.6 581.8,208.7 579.3,210.7 580.2,213.7 577.6,211.9 575.0,213.7 575.9,210.7 573.4,208.7 576.5,208.6" fill="#66c8ff"/>
<polygon points="581.9,205.2 583.0,208.1 586.1,208.2 583.6,210.2 584.5,213.2 581.9,211.4 579.3,213.2 580.2,210.2 577.7,208.2 580.8,208.1" fill="#66c8ff"/>
<polygon points="586.7,204.8 587.8,207.7 590.9,207.8 588.4,209.8 589.3,212.8 586.7,211.0 584.1,212.8 585.0,209.8 582.5,207.8 585.6,207.7" fill="#66c8ff"/>
<polygon points="590.8,204.8 591.9,207.7 595.0,207.8 592.5,209.8 593.4,212.8 590.8,211.0 588.2,212.8 589.1,209.8 586.6,207.8 589.7,207.7" fill="#66c8ff"/>
<polygon points="595.6,204.4 596.7,207.3 599.8,207.4 597.3,209.4 598.2,212.4 595.6,210.6 593.0,212.4 593.9,209.4 591.4,207.4 594.5,207.3" fill="#66c8ff"/>
<polygon points="600.3,203.9 601.4,206.8 604.5,206.9 602.0,208.9 602.9,211.9 600.3,210.1 597.7,211.9 598.6,208.9 596.1,206.9 599.2,206.8" fill="#66c8ff"/>
<polygon points="605.1,203.1 606.2,206.0 609.3,206.1 606.8,208.1 607.7,211.1 605.1,209.3 602.5,211.1 603.4,208.1 600.9,206.1 604.0,206.0" fill="#66c8ff"/>
<polygon points="609.8,202.0 610.9,204.9 614.0,205.0 611.5,207.0 612.4,210.0 609.8,208.2 607.2,210.0 608.1,207.0 605.6,205.0 608.7,204.9" fill="#66c8ff"/>
<polyline points="402.5,208.8 412.0,209.0 437.1,202.6 448.6,199.1 452.8,208.8 464.6,205.0 469.3,191.3 473.7,201.7 480.9,200.2 485.5,203.2 494.6,207.0 501.6,197.6 506.4,202.1 513.0,207.7 517.8,202.8 522.5,195.4 535.8,176.0 544.9,194.5 554.2,199.6 561.4,195.3 568.1,198.4 572.8,198.2 577.6,202.6 581.9,198.2 586.7,200.7 590.8,207.3 595.6,207.3 600.3,207.3 605.1,207.7 609.8,207.7" fill="none" stroke="#e8812f" stroke-width="1.7" stroke-linejoin="round"/>
<circle cx="402.5" cy="208.8" r="2.40" fill="#e8812f"/>
<circle cx="412.0" cy="209.0" r="2.40" fill="#e8812f"/>
<circle cx="437.1" cy="202.6" r="2.40" fill="#e8812f"/>
<circle cx="448.6" cy="199.1" r="2.40" fill="#e8812f"/>
<circle cx="452.8" cy="208.8" r="2.40" fill="#e8812f"/>
<circle cx="464.6" cy="205.0" r="2.40" fill="#e8812f"/>
<circle cx="469.3" cy="191.3" r="2.40" fill="#e8812f"/>
<circle cx="473.7" cy="201.7" r="2.40" fill="#e8812f"/>
<circle cx="480.9" cy="200.2" r="2.40" fill="#e8812f"/>
<circle cx="485.5" cy="203.2" r="2.40" fill="#e8812f"/>
<circle cx="494.6" cy="207.0" r="2.40" fill="#e8812f"/>
<circle cx="501.6" cy="197.6" r="2.40" fill="#e8812f"/>
<circle cx="506.4" cy="202.1" r="2.40" fill="#e8812f"/>
<circle cx="513.0" cy="207.7" r="2.40" fill="#e8812f"/>
<circle cx="517.8" cy="202.8" r="2.40" fill="#e8812f"/>
<circle cx="522.5" cy="195.4" r="2.40" fill="#e8812f"/>
<circle cx="535.8" cy="176.0" r="2.40" fill="#e8812f"/>
<circle cx="544.9" cy="194.5" r="2.40" fill="#e8812f"/>
<circle cx="554.2" cy="199.6" r="2.40" fill="#e8812f"/>
<circle cx="561.4" cy="195.3" r="2.40" fill="#e8812f"/>
<circle cx="568.1" cy="198.4" r="2.40" fill="#e8812f"/>
<circle cx="572.8" cy="198.2" r="2.40" fill="#e8812f"/>
<circle cx="577.6" cy="202.6" r="2.40" fill="#e8812f"/>
<circle cx="581.9" cy="198.2" r="2.40" fill="#e8812f"/>
<circle cx="586.7" cy="200.7" r="2.40" fill="#e8812f"/>
<circle cx="590.8" cy="207.3" r="2.40" fill="#e8812f"/>
<circle cx="595.6" cy="207.3" r="2.40" fill="#e8812f"/>
<circle cx="600.3" cy="207.3" r="2.40" fill="#e8812f"/>
<circle cx="605.1" cy="207.7" r="2.40" fill="#e8812f"/>
<circle cx="609.8" cy="207.7" r="2.40" fill="#e8812f"/>
<polyline points="402.5,201.1 412.0,181.3 437.1,146.6 448.6,169.6 452.8,184.5 464.6,188.0 469.3,187.4 473.7,188.6 480.9,200.1 485.5,209.2 494.6,198.1 501.6,178.9 506.4,166.4 513.0,143.1 517.8,176.1 522.5,140.9 535.8,187.6 544.9,165.7 554.2,197.2 561.4,196.9 568.1,193.6 572.8,196.3 577.6,200.7 581.9,202.0 586.7,208.3 590.8,208.8 595.6,208.3 600.3,209.6 605.1,205.0 609.8,205.0" fill="none" stroke="#a526f5" stroke-width="1.7" stroke-linejoin="round"/>
<path d="M402.5,197.8L405.7,203.1L399.3,203.1Z" fill="#a526f5"/>
<path d="M412.0,178.0L415.2,183.3L408.8,183.3Z" fill="#a526f5"/>
<path d="M437.1,143.2L440.3,148.6L433.9,148.6Z" fill="#a526f5"/>
<path d="M448.6,166.2L451.8,171.6L445.4,171.6Z" fill="#a526f5"/>
<path d="M452.8,181.2L456.0,186.5L449.6,186.5Z" fill="#a526f5"/>
<path d="M464.6,184.7L467.8,190.0L461.4,190.0Z" fill="#a526f5"/>
<path d="M469.3,184.1L472.5,189.4L466.1,189.4Z" fill="#a526f5"/>
<path d="M473.7,185.2L476.9,190.6L470.5,190.6Z" fill="#a526f5"/>
<path d="M480.9,196.8L484.1,202.1L477.7,202.1Z" fill="#a526f5"/>
<path d="M485.5,205.8L488.7,211.2L482.3,211.2Z" fill="#a526f5"/>
<path d="M494.6,194.8L497.8,200.1L491.4,200.1Z" fill="#a526f5"/>
<path d="M501.6,175.6L504.8,180.9L498.4,180.9Z" fill="#a526f5"/>
<path d="M506.4,163.1L509.6,168.4L503.2,168.4Z" fill="#a526f5"/>
<path d="M513.0,139.8L516.2,145.1L509.8,145.1Z" fill="#a526f5"/>
<path d="M517.8,172.8L521.0,178.1L514.6,178.1Z" fill="#a526f5"/>
<path d="M522.5,137.6L525.7,142.9L519.3,142.9Z" fill="#a526f5"/>
<path d="M535.8,184.2L539.0,189.6L532.6,189.6Z" fill="#a526f5"/>
<path d="M544.9,162.3L548.1,167.7L541.7,167.7Z" fill="#a526f5"/>
<path d="M554.2,193.8L557.4,199.2L551.0,199.2Z" fill="#a526f5"/>
<path d="M561.4,193.6L564.6,198.9L558.2,198.9Z" fill="#a526f5"/>
<path d="M568.1,190.2L571.3,195.6L564.9,195.6Z" fill="#a526f5"/>
<path d="M572.8,193.0L576.0,198.3L569.6,198.3Z" fill="#a526f5"/>
<path d="M577.6,197.3L580.8,202.7L574.4,202.7Z" fill="#a526f5"/>
<path d="M581.9,198.7L585.1,204.0L578.7,204.0Z" fill="#a526f5"/>
<path d="M586.7,205.0L589.9,210.3L583.5,210.3Z" fill="#a526f5"/>
<path d="M590.8,205.5L594.0,210.8L587.6,210.8Z" fill="#a526f5"/>
<path d="M595.6,205.0L598.8,210.3L592.4,210.3Z" fill="#a526f5"/>
<path d="M600.3,206.2L603.5,211.6L597.1,211.6Z" fill="#a526f5"/>
<path d="M605.1,201.7L608.3,207.0L601.9,207.0Z" fill="#a526f5"/>
<path d="M609.8,201.7L613.0,207.0L606.6,207.0Z" fill="#a526f5"/>
<line x1="374.70" y1="7.70" x2="400.40" y2="7.70" stroke="#000" stroke-width="1.5"/>
<rect x="385.5" y="5.6" width="4.2" height="4.2" fill="#000"/>
<text x="403.6" y="11.2" font-size="11.7" font-weight="bold">Inf NO<tspan font-size="8" dy="3">3</tspan><tspan font-size="8" dy="-7.5">-</tspan><tspan dy="4.5">-N</tspan></text>
<line x1="464.00" y1="7.70" x2="489.00" y2="7.70" stroke="#40f810" stroke-width="1.5"/>
<polygon points="476.5,4.0 477.4,6.5 480.1,6.5 478.0,8.2 478.7,10.7 476.5,9.2 474.3,10.7 475.0,8.2 472.9,6.5 475.6,6.5" fill="#40f810"/>
<text x="492" y="11.2" font-size="11.7" font-weight="bold">Inf SCN<tspan font-size="8" dy="-4.5">-</tspan></text>
<line x1="542.30" y1="7.70" x2="568.90" y2="7.70" stroke="#e8812f" stroke-width="1.5"/>
<circle cx="555.6" cy="7.7" r="2.28" fill="#e8812f"/>
<text x="571.3" y="11.2" font-size="11.7" font-weight="bold">Eff NO<tspan font-size="8" dy="3">2</tspan><tspan font-size="8" dy="-7.5">-</tspan><tspan dy="4.5">-N</tspan></text>
<line x1="374.70" y1="25.00" x2="400.40" y2="25.00" stroke="#ff2020" stroke-width="1.5"/>
<rect x="385.5" y="22.9" width="4.2" height="4.2" fill="#ff2020"/>
<text x="403.6" y="28.5" font-size="11.7" font-weight="bold">Eff NO<tspan font-size="8" dy="3">3</tspan><tspan font-size="8" dy="-7.5">-</tspan><tspan dy="4.5">-N</tspan></text>
<line x1="464.00" y1="25.00" x2="489.00" y2="25.00" stroke="#66c8ff" stroke-width="1.5"/>
<polygon points="476.5,21.3 477.4,23.8 480.1,23.8 478.0,25.5 478.7,28.0 476.5,26.5 474.3,28.0 475.0,25.5 472.9,23.8 475.6,23.8" fill="#66c8ff"/>
<text x="492" y="28.5" font-size="11.7" font-weight="bold">Eff SCN<tspan font-size="8" dy="-4.5">-</tspan></text>
<line x1="542.30" y1="25.00" x2="568.90" y2="25.00" stroke="#a526f5" stroke-width="1.5"/>
<path d="M555.6,21.8L558.6,26.9L552.6,26.9Z" fill="#a526f5"/>
<text x="571.3" y="28.5" font-size="11.7" font-weight="bold">Eff NH<tspan font-size="8" dy="3">4</tspan><tspan font-size="8" dy="-7.5">+</tspan><tspan dy="4.5">-N</tspan></text>
<text transform="translate(0,255) scale(1.1,1)" font-size="18" font-weight="bold">(c)</text>
<line x1="47.30" y1="271.00" x2="47.30" y2="461.90" stroke="#000" stroke-width="1.6"/>
<line x1="43.30" y1="461.10" x2="47.30" y2="461.10" stroke="#000" stroke-width="1.3"/>
<text x="41.30" y="466.10" font-size="14.5" text-anchor="end" font-style="normal" font-weight="bold" >0</text>
<line x1="45.10" y1="443.10" x2="47.30" y2="443.10" stroke="#000" stroke-width="1.3"/>
<line x1="43.30" y1="425.10" x2="47.30" y2="425.10" stroke="#000" stroke-width="1.3"/>
<text x="41.30" y="430.10" font-size="14.5" text-anchor="end" font-style="normal" font-weight="bold" >20</text>
<line x1="45.10" y1="407.10" x2="47.30" y2="407.10" stroke="#000" stroke-width="1.3"/>
<line x1="43.30" y1="389.10" x2="47.30" y2="389.10" stroke="#000" stroke-width="1.3"/>
<text x="41.30" y="394.10" font-size="14.5" text-anchor="end" font-style="normal" font-weight="bold" >40</text>
<line x1="45.10" y1="371.10" x2="47.30" y2="371.10" stroke="#000" stroke-width="1.3"/>
<line x1="43.30" y1="353.10" x2="47.30" y2="353.10" stroke="#000" stroke-width="1.3"/>
<text x="41.30" y="358.10" font-size="14.5" text-anchor="end" font-style="normal" font-weight="bold" >60</text>
<line x1="45.10" y1="335.10" x2="47.30" y2="335.10" stroke="#000" stroke-width="1.3"/>
<line x1="43.30" y1="317.10" x2="47.30" y2="317.10" stroke="#000" stroke-width="1.3"/>
<text x="41.30" y="322.10" font-size="14.5" text-anchor="end" font-style="normal" font-weight="bold" >80</text>
<line x1="45.10" y1="299.10" x2="47.30" y2="299.10" stroke="#000" stroke-width="1.3"/>
<line x1="43.30" y1="281.10" x2="47.30" y2="281.10" stroke="#000" stroke-width="1.3"/>
<text x="41.30" y="286.10" font-size="14.5" text-anchor="end" font-style="normal" font-weight="bold" >100</text>
<line x1="46.50" y1="461.10" x2="173.90" y2="461.10" stroke="#000" stroke-width="1.6"/>
<rect x="55.9" y="280.40" width="26.40" height="7.40" fill="#6c9bcf"/>
<rect x="55.9" y="287.80" width="26.40" height="7.10" fill="#8b9527"/>
<rect x="55.9" y="294.90" width="26.40" height="1.90" fill="#764547"/>
<rect x="55.9" y="296.80" width="26.40" height="7.20" fill="#62e2d4"/>
<rect x="55.9" y="304.00" width="26.40" height="2.00" fill="#c49c2c"/>
<rect x="55.9" y="306.00" width="26.40" height="12.40" fill="#ae74ec"/>
<rect x="55.9" y="318.40" width="26.40" height="31.70" fill="#54b872"/>
<rect x="55.9" y="350.10" width="26.40" height="42.00" fill="#3f78e6"/>
<rect x="55.9" y="392.10" width="26.40" height="67.30" fill="#ee3e42"/>
<rect x="55.9" y="459.40" width="26.40" height="1.70" fill="#000000"/>
<rect x="99.3" y="280.40" width="26.50" height="10.80" fill="#6c9bcf"/>
<rect x="99.3" y="291.20" width="26.50" height="2.70" fill="#f2661f"/>
<rect x="99.3" y="293.90" width="26.50" height="3.50" fill="#764547"/>
<rect x="99.3" y="297.40" width="26.50" height="8.50" fill="#c49c2c"/>
<rect x="99.3" y="305.90" width="26.50" height="4.40" fill="#ae74ec"/>
<rect x="99.3" y="310.30" width="26.50" height="31.40" fill="#3f78e6"/>
<rect x="99.3" y="341.70" width="26.50" height="48.20" fill="#ee3e42"/>
<rect x="99.3" y="389.90" width="26.50" height="71.20" fill="#000000"/>
<rect x="142.8" y="280.40" width="27.00" height="11.20" fill="#6c9bcf"/>
<rect x="142.8" y="291.60" width="27.00" height="3.30" fill="#f2661f"/>
<rect x="142.8" y="294.90" width="27.00" height="2.90" fill="#764547"/>
<rect x="142.8" y="297.80" width="27.00" height="3.10" fill="#62e2d4"/>
<rect x="142.8" y="300.90" width="27.00" height="8.20" fill="#c49c2c"/>
<rect x="142.8" y="309.10" width="27.00" height="7.70" fill="#ae74ec"/>
<rect x="142.8" y="316.80" width="27.00" height="44.10" fill="#3f78e6"/>
<rect x="142.8" y="360.90" width="27.00" height="21.60" fill="#ee3e42"/>
<rect x="142.8" y="382.50" width="27.00" height="78.60" fill="#000000"/>
<text x="69.20" y="473.00" font-size="12.5" text-anchor="middle" font-style="normal" font-weight="bold" >IS</text>
<text x="112.60" y="473.00" font-size="12.5" text-anchor="middle" font-style="normal" font-weight="bold" >R1-50d</text>
<text x="156.10" y="473.00" font-size="12.5" text-anchor="middle" font-style="normal" font-weight="bold" >R1-80d</text>
<text transform="translate(20.5,366.5) rotate(-90)" font-size="14.4" text-anchor="middle" font-weight="bold">Relative abundance (%)</text>
<rect x="180" y="290.00" width="26.2" height="12.9" fill="#000000"/>
<text x="209" y="300.65" font-size="11.6" font-weight="bold" font-style="italic">Proteobacteria</text>
<rect x="180" y="304.48" width="26.2" height="12.9" fill="#ee3e42"/>
<text x="209" y="315.13" font-size="11.6" font-weight="bold" font-style="italic">Bacteroidetes</text>
<rect x="180" y="318.96" width="26.2" height="12.9" fill="#3f78e6"/>
<text x="209" y="329.61" font-size="11.6" font-weight="bold" font-style="italic">Chloroflexi</text>
<rect x="180" y="333.44" width="26.2" height="12.9" fill="#54b872"/>
<text x="209" y="344.09" font-size="11.6" font-weight="bold" font-style="italic">Aegiribacteria</text>
<rect x="180" y="347.92" width="26.2" height="12.9" fill="#ae74ec"/>
<text x="209" y="358.57" font-size="11.6" font-weight="bold" font-style="italic">Acidobacteria</text>
<rect x="180" y="362.40" width="26.2" height="12.9" fill="#c49c2c"/>
<text x="209" y="373.05" font-size="11.6" font-weight="bold" font-style="italic">Planctomycetes</text>
<rect x="180" y="376.88" width="26.2" height="12.9" fill="#62e2d4"/>
<text x="209" y="387.53" font-size="11.6" font-weight="bold" font-style="italic">Firmicutes</text>
<rect x="180" y="391.36" width="26.2" height="12.9" fill="#764547"/>
<text x="209" y="402.01" font-size="11.6" font-weight="bold" font-style="italic">Armatimonadetes</text>
<rect x="180" y="405.84" width="26.2" height="12.9" fill="#8b9527"/>
<text x="209" y="416.49" font-size="11.6" font-weight="bold" font-style="italic">Atribacteria</text>
<rect x="180" y="420.32" width="26.2" height="12.9" fill="#f2661f"/>
<text x="209" y="430.97" font-size="11.6" font-weight="bold" font-style="italic">WPS-2</text>
<rect x="180" y="434.80" width="26.2" height="12.9" fill="#6c9bcf"/>
<text x="209" y="445.45" font-size="11.6" font-weight="bold" font-style="italic">Others</text>
<text transform="translate(325.7,255) scale(1.1,1)" font-size="18" font-weight="bold">(d)</text>
<rect x="372.3" y="266.7" width="255.20" height="201.50" fill="none" stroke="#000" stroke-width="1.6"/>
<line x1="368.80" y1="468.00" x2="372.30" y2="468.00" stroke="#000" stroke-width="1.3"/>
<text x="366.30" y="472.90" font-size="14.3" text-anchor="end" font-style="normal" font-weight="bold" >0.0</text>
<line x1="368.80" y1="427.72" x2="372.30" y2="427.72" stroke="#000" stroke-width="1.3"/>
<text x="366.30" y="432.62" font-size="14.3" text-anchor="end" font-style="normal" font-weight="bold" >5.0×10<tspan font-size="9.6" dy="-6">6</tspan></text>
<line x1="368.80" y1="387.44" x2="372.30" y2="387.44" stroke="#000" stroke-width="1.3"/>
<text x="366.30" y="392.34" font-size="14.3" text-anchor="end" font-style="normal" font-weight="bold" >1.0×10<tspan font-size="9.6" dy="-6">7</tspan></text>
<line x1="368.80" y1="347.16" x2="372.30" y2="347.16" stroke="#000" stroke-width="1.3"/>
<text x="366.30" y="352.06" font-size="14.3" text-anchor="end" font-style="normal" font-weight="bold" >1.5×10<tspan font-size="9.6" dy="-6">7</tspan></text>
<line x1="368.80" y1="306.88" x2="372.30" y2="306.88" stroke="#000" stroke-width="1.3"/>
<text x="366.30" y="311.78" font-size="14.3" text-anchor="end" font-style="normal" font-weight="bold" >2.0×10<tspan font-size="9.6" dy="-6">7</tspan></text>
<line x1="368.80" y1="266.60" x2="372.30" y2="266.60" stroke="#000" stroke-width="1.3"/>
<text x="366.30" y="271.50" font-size="14.3" text-anchor="end" font-style="normal" font-weight="bold" >2.5×10<tspan font-size="9.6" dy="-6">7</tspan></text>
<rect x="397.2" y="341.5" width="34.3" height="126.7" fill="#6872ff"/>
<line x1="414.35" y1="339.50" x2="414.35" y2="343.60" stroke="#000" stroke-width="1.2"/>
<line x1="411.85" y1="339.50" x2="416.85" y2="339.50" stroke="#000" stroke-width="1.2"/>
<line x1="411.85" y1="343.60" x2="416.85" y2="343.60" stroke="#000" stroke-width="1.2"/>
<line x1="414.35" y1="468.20" x2="414.35" y2="471.70" stroke="#000" stroke-width="1.3"/>
<rect x="482.6" y="317.1" width="34.4" height="151.1" fill="#6872ff"/>
<line x1="499.80" y1="310.20" x2="499.80" y2="324.60" stroke="#000" stroke-width="1.2"/>
<line x1="497.30" y1="310.20" x2="502.30" y2="310.20" stroke="#000" stroke-width="1.2"/>
<line x1="497.30" y1="324.60" x2="502.30" y2="324.60" stroke="#000" stroke-width="1.2"/>
<line x1="499.80" y1="468.20" x2="499.80" y2="471.70" stroke="#000" stroke-width="1.3"/>
<rect x="568" y="302.4" width="34.2" height="165.8" fill="#6872ff"/>
<line x1="585.10" y1="293.30" x2="585.10" y2="311.60" stroke="#000" stroke-width="1.2"/>
<line x1="582.60" y1="293.30" x2="587.60" y2="293.30" stroke="#000" stroke-width="1.2"/>
<line x1="582.60" y1="311.60" x2="587.60" y2="311.60" stroke="#000" stroke-width="1.2"/>
<line x1="585.10" y1="468.20" x2="585.10" y2="471.70" stroke="#000" stroke-width="1.3"/>
<text x="414.60" y="486.50" font-size="16.5" text-anchor="middle" font-style="normal" font-weight="bold" >IS</text>
<text x="500.00" y="486.50" font-size="16.5" text-anchor="middle" font-style="normal" font-weight="bold" >R1-30d</text>
<text x="585.00" y="486.50" font-size="16.5" text-anchor="middle" font-style="normal" font-weight="bold" >R1-60d</text>
<text transform="translate(316,367) rotate(-90)" font-size="15.3" text-anchor="middle" font-weight="bold">Gene abundance (copies/ng DNA)</text>
<text transform="translate(0,488.2) scale(1.1,1)" font-size="18" font-weight="bold">(e)</text>
<line x1="46.50" y1="489.10" x2="46.50" y2="680.30" stroke="#000" stroke-width="1.6"/>
<line x1="42.50" y1="679.50" x2="46.50" y2="679.50" stroke="#000" stroke-width="1.3"/>
<text x="40.00" y="684.50" font-size="14" text-anchor="end" font-style="normal" font-weight="bold" >0</text>
<line x1="44.30" y1="661.45" x2="46.50" y2="661.45" stroke="#000" stroke-width="1.3"/>
<line x1="42.50" y1="643.40" x2="46.50" y2="643.40" stroke="#000" stroke-width="1.3"/>
<text x="40.00" y="648.40" font-size="14" text-anchor="end" font-style="normal" font-weight="bold" >20</text>
<line x1="44.30" y1="625.35" x2="46.50" y2="625.35" stroke="#000" stroke-width="1.3"/>
<line x1="42.50" y1="607.30" x2="46.50" y2="607.30" stroke="#000" stroke-width="1.3"/>
<text x="40.00" y="612.30" font-size="14" text-anchor="end" font-style="normal" font-weight="bold" >40</text>
<line x1="44.30" y1="589.25" x2="46.50" y2="589.25" stroke="#000" stroke-width="1.3"/>
<line x1="42.50" y1="571.20" x2="46.50" y2="571.20" stroke="#000" stroke-width="1.3"/>
<text x="40.00" y="576.20" font-size="14" text-anchor="end" font-style="normal" font-weight="bold" >60</text>
<line x1="44.30" y1="553.15" x2="46.50" y2="553.15" stroke="#000" stroke-width="1.3"/>
<line x1="42.50" y1="535.10" x2="46.50" y2="535.10" stroke="#000" stroke-width="1.3"/>
<text x="40.00" y="540.10" font-size="14" text-anchor="end" font-style="normal" font-weight="bold" >80</text>
<line x1="44.30" y1="517.05" x2="46.50" y2="517.05" stroke="#000" stroke-width="1.3"/>
<line x1="42.50" y1="499.00" x2="46.50" y2="499.00" stroke="#000" stroke-width="1.3"/>
<text x="40.00" y="504.00" font-size="14" text-anchor="end" font-style="normal" font-weight="bold" >100</text>
<line x1="45.70" y1="679.60" x2="173.40" y2="679.60" stroke="#000" stroke-width="1.6"/>
<rect x="55" y="499.00" width="26.70" height="5.70" fill="#6c9bcf"/>
<rect x="55" y="504.70" width="26.70" height="1.30" fill="#f2661f"/>
<rect x="55" y="506.00" width="26.70" height="2.10" fill="#8b9527"/>
<rect x="55" y="508.10" width="26.70" height="7.60" fill="#764547"/>
<rect x="55" y="515.70" width="26.70" height="12.30" fill="#62e2d4"/>
<rect x="55" y="528.00" width="26.70" height="1.90" fill="#c49c2c"/>
<rect x="55" y="529.90" width="26.70" height="7.00" fill="#ae74ec"/>
<rect x="55" y="536.90" width="26.70" height="31.70" fill="#54b872"/>
<rect x="55" y="568.60" width="26.70" height="42.10" fill="#3f78e6"/>
<rect x="55" y="610.70" width="26.70" height="1.90" fill="#000000"/>
<rect x="55" y="612.60" width="26.70" height="66.70" fill="#e62a26"/>
<rect x="98.5" y="499.00" width="26.60" height="4.70" fill="#6c9bcf"/>
<rect x="98.5" y="503.70" width="26.60" height="2.30" fill="#f2661f"/>
<rect x="98.5" y="506.00" width="26.60" height="1.10" fill="#8b9527"/>
<rect x="98.5" y="507.10" width="26.60" height="1.00" fill="#764547"/>
<rect x="98.5" y="508.10" width="26.60" height="1.70" fill="#62e2d4"/>
<rect x="98.5" y="509.80" width="26.60" height="10.10" fill="#c49c2c"/>
<rect x="98.5" y="519.90" width="26.60" height="8.90" fill="#ae74ec"/>
<rect x="98.5" y="528.80" width="26.60" height="1.10" fill="#54b872"/>
<rect x="98.5" y="529.90" width="26.60" height="36.10" fill="#3f78e6"/>
<rect x="98.5" y="566.00" width="26.60" height="59.20" fill="#000000"/>
<rect x="98.5" y="625.20" width="26.60" height="54.10" fill="#e62a26"/>
<rect x="142.2" y="499.00" width="26.60" height="5.50" fill="#6c9bcf"/>
<rect x="142.2" y="504.50" width="26.60" height="1.30" fill="#f2661f"/>
<rect x="142.2" y="505.80" width="26.60" height="2.80" fill="#8b9527"/>
<rect x="142.2" y="508.60" width="26.60" height="1.20" fill="#764547"/>
<rect x="142.2" y="509.80" width="26.60" height="3.90" fill="#62e2d4"/>
<rect x="142.2" y="513.70" width="26.60" height="11.70" fill="#c49c2c"/>
<rect x="142.2" y="525.40" width="26.60" height="8.40" fill="#ae74ec"/>
<rect x="142.2" y="533.80" width="26.60" height="21.80" fill="#3f78e6"/>
<rect x="142.2" y="555.60" width="26.60" height="61.20" fill="#000000"/>
<rect x="142.2" y="616.80" width="26.60" height="62.50" fill="#e62a26"/>
<text x="68.80" y="691.00" font-size="12.5" text-anchor="middle" font-style="normal" font-weight="bold" >IS</text>
<text x="111.70" y="691.00" font-size="12.5" text-anchor="middle" font-style="normal" font-weight="bold" >R2-30d</text>
<text x="155.00" y="691.00" font-size="12.5" text-anchor="middle" font-style="normal" font-weight="bold" >R2-60d</text>
<text transform="translate(19.2,585.3) rotate(-90)" font-size="14.4" text-anchor="middle" font-weight="bold">Relative abundance (%)</text>
<rect x="178.8" y="512.20" width="26.2" height="12.9" fill="#e62a26"/>
<text x="208.4" y="522.85" font-size="11.6" font-weight="bold" font-style="italic">Bacteroidetes</text>
<rect x="178.8" y="526.66" width="26.2" height="12.9" fill="#000000"/>
<text x="208.4" y="537.31" font-size="11.6" font-weight="bold" font-style="italic">Proteobacteria</text>
<rect x="178.8" y="541.12" width="26.2" height="12.9" fill="#3f78e6"/>
<text x="208.4" y="551.77" font-size="11.6" font-weight="bold" font-style="italic">Chloroflexi</text>
<rect x="178.8" y="555.58" width="26.2" height="12.9" fill="#54b872"/>
<text x="208.4" y="566.23" font-size="11.6" font-weight="bold" font-style="italic">Aegiribacteria</text>
<rect x="178.8" y="570.04" width="26.2" height="12.9" fill="#ae74ec"/>
<text x="208.4" y="580.69" font-size="11.6" font-weight="bold" font-style="italic">Atribacteria</text>
<rect x="178.8" y="584.50" width="26.2" height="12.9" fill="#c49c2c"/>
<text x="208.4" y="595.15" font-size="11.6" font-weight="bold" font-style="italic">Planctomycetes</text>
<rect x="178.8" y="598.96" width="26.2" height="12.9" fill="#62e2d4"/>
<text x="208.4" y="609.61" font-size="11.6" font-weight="bold" font-style="italic">Acidobacteria</text>
<rect x="178.8" y="613.42" width="26.2" height="12.9" fill="#764547"/>
<text x="208.4" y="624.07" font-size="11.6" font-weight="bold" font-style="italic">Firmicutes</text>
<rect x="178.8" y="627.88" width="26.2" height="12.9" fill="#8b9527"/>
<text x="208.4" y="638.53" font-size="11.6" font-weight="bold" font-style="italic">Armatimonadetes</text>
<rect x="178.8" y="642.34" width="26.2" height="12.9" fill="#f2661f"/>
<text x="208.4" y="652.99" font-size="11.6" font-weight="bold" font-style="italic">Zixibacteria</text>
<rect x="178.8" y="656.80" width="26.2" height="12.9" fill="#6c9bcf"/>
<text x="208.4" y="667.45" font-size="11.6" font-weight="bold" font-style="italic">Others</text>
<text transform="translate(325.7,488.2) scale(1.1,1)" font-size="18" font-weight="bold">(f)</text>
<line x1="373.20" y1="489.90" x2="373.20" y2="680.60" stroke="#000" stroke-width="1.6"/>
<line x1="369.20" y1="679.80" x2="373.20" y2="679.80" stroke="#000" stroke-width="1.3"/>
<text x="366.90" y="683.90" font-size="14.3" text-anchor="end" font-style="normal" font-weight="bold" >0</text>
<line x1="371.00" y1="662.57" x2="373.20" y2="662.57" stroke="#000" stroke-width="1.3"/>
<line x1="369.20" y1="645.35" x2="373.20" y2="645.35" stroke="#000" stroke-width="1.3"/>
<text x="366.90" y="649.45" font-size="14.3" text-anchor="end" font-style="normal" font-weight="bold" >20</text>
<line x1="371.00" y1="628.12" x2="373.20" y2="628.12" stroke="#000" stroke-width="1.3"/>
<line x1="369.20" y1="610.90" x2="373.20" y2="610.90" stroke="#000" stroke-width="1.3"/>
<text x="366.90" y="615.00" font-size="14.3" text-anchor="end" font-style="normal" font-weight="bold" >40</text>
<line x1="371.00" y1="593.67" x2="373.20" y2="593.67" stroke="#000" stroke-width="1.3"/>
<line x1="369.20" y1="576.45" x2="373.20" y2="576.45" stroke="#000" stroke-width="1.3"/>
<text x="366.90" y="580.55" font-size="14.3" text-anchor="end" font-style="normal" font-weight="bold" >60</text>
<line x1="371.00" y1="559.22" x2="373.20" y2="559.22" stroke="#000" stroke-width="1.3"/>
<line x1="369.20" y1="542.00" x2="373.20" y2="542.00" stroke="#000" stroke-width="1.3"/>
<text x="366.90" y="546.10" font-size="14.3" text-anchor="end" font-style="normal" font-weight="bold" >80</text>
<line x1="371.00" y1="524.77" x2="373.20" y2="524.77" stroke="#000" stroke-width="1.3"/>
<line x1="369.20" y1="507.55" x2="373.20" y2="507.55" stroke="#000" stroke-width="1.3"/>
<text x="366.90" y="511.65" font-size="14.3" text-anchor="end" font-style="normal" font-weight="bold" >100</text>
<line x1="372.40" y1="679.80" x2="500.70" y2="679.80" stroke="#000" stroke-width="1.6"/>
<rect x="381.3" y="507.50" width="25.60" height="28.30" fill="#6c9bcf"/>
<rect x="381.3" y="535.80" width="25.60" height="11.00" fill="#f2661f"/>
<rect x="381.3" y="546.80" width="25.60" height="7.00" fill="#8b9527"/>
<rect x="381.3" y="553.80" width="25.60" height="28.30" fill="#62e2d4"/>
<rect x="381.3" y="582.10" width="25.60" height="29.80" fill="#c49c2c"/>
<rect x="381.3" y="611.90" width="25.60" height="2.40" fill="#ae74ec"/>
<rect x="381.3" y="614.30" width="25.60" height="31.10" fill="#54b872"/>
<rect x="381.3" y="645.40" width="25.60" height="34.40" fill="#e62a26"/>
<rect x="423.7" y="507.50" width="25.20" height="58.00" fill="#6c9bcf"/>
<rect x="423.7" y="565.50" width="25.20" height="8.70" fill="#8b9527"/>
<rect x="423.7" y="574.20" width="25.20" height="16.50" fill="#764547"/>
<rect x="423.7" y="590.70" width="25.20" height="1.00" fill="#c49c2c"/>
<rect x="423.7" y="591.70" width="25.20" height="20.20" fill="#ae74ec"/>
<rect x="423.7" y="611.90" width="25.20" height="0.60" fill="#54b872"/>
<rect x="423.7" y="612.50" width="25.20" height="23.50" fill="#3f78e6"/>
<rect x="423.7" y="636.00" width="25.20" height="19.90" fill="#000000"/>
<rect x="423.7" y="655.90" width="25.20" height="23.90" fill="#e62a26"/>
<rect x="465.9" y="507.50" width="25.60" height="90.80" fill="#6c9bcf"/>
<rect x="465.9" y="598.30" width="25.60" height="8.10" fill="#8b9527"/>
<rect x="465.9" y="606.40" width="25.60" height="7.70" fill="#764547"/>
<rect x="465.9" y="614.10" width="25.60" height="9.40" fill="#ae74ec"/>
<rect x="465.9" y="623.50" width="25.60" height="13.60" fill="#3f78e6"/>
<rect x="465.9" y="637.10" width="25.60" height="28.40" fill="#000000"/>
<rect x="465.9" y="665.50" width="25.60" height="14.30" fill="#e62a26"/>
<text x="394.50" y="691.50" font-size="12.5" text-anchor="middle" font-style="normal" font-weight="bold" >IS</text>
<text x="436.10" y="691.50" font-size="12.5" text-anchor="middle" font-style="normal" font-weight="bold" >R2-30d</text>
<text x="478.80" y="691.50" font-size="12.5" text-anchor="middle" font-style="normal" font-weight="bold" >R2-60d</text>
<text transform="translate(345,592.9) rotate(-90)" font-size="14.45" text-anchor="middle" font-weight="bold">Relative abundance (%)</text>
<rect x="505.9" y="512.30" width="26.2" height="12.9" fill="#e62a26"/>
<text x="535.6" y="522.95" font-size="11.6" font-weight="bold" font-style="italic">Bacteroidetes_vadinHA17</text>
<rect x="505.9" y="526.80" width="26.2" height="12.9" fill="#000000"/>
<text x="535.6" y="537.45" font-size="11.6" font-weight="bold" font-style="italic">PHOS-HE36</text>
<rect x="505.9" y="541.30" width="26.2" height="12.9" fill="#3f78e6"/>
<text x="535.6" y="551.95" font-size="11.6" font-weight="bold" font-style="italic">Thiobacillus</text>
<rect x="505.9" y="555.80" width="26.2" height="12.9" fill="#54b872"/>
<text x="535.6" y="566.45" font-size="11.6" font-weight="bold" font-style="italic">SJA-15</text>
<rect x="505.9" y="570.30" width="26.2" height="12.9" fill="#ae74ec"/>
<text x="535.6" y="580.95" font-size="11.6" font-weight="bold" font-style="italic">SBR1031</text>
<rect x="505.9" y="584.80" width="26.2" height="12.9" fill="#c49c2c"/>
<text x="535.6" y="595.45" font-size="11.6" font-weight="bold" font-style="italic">Aegiribacteria</text>
<rect x="505.9" y="599.30" width="26.2" height="12.9" fill="#62e2d4"/>
<text x="535.6" y="609.95" font-size="11.6" font-weight="bold" font-style="italic">Proteiniphilum</text>
<rect x="505.9" y="613.80" width="26.2" height="12.9" fill="#764547"/>
<text x="535.6" y="624.45" font-size="11.6" font-weight="bold" font-style="italic">Denitratisoma</text>
<rect x="505.9" y="628.30" width="26.2" height="12.9" fill="#8b9527"/>
<text x="535.6" y="638.95" font-size="11.6" font-weight="bold" font-style="italic">Candidatus_Caldatribacterium</text>
<rect x="505.9" y="642.80" width="26.2" height="12.9" fill="#f2661f"/>
<text x="535.6" y="653.45" font-size="11.6" font-weight="bold" font-style="italic">Thermoanaerobaculum</text>
<rect x="505.9" y="657.30" width="26.2" height="12.9" fill="#6c9bcf"/>
<text x="535.6" y="667.95" font-size="11.6" font-weight="bold" font-style="italic">Others</text>
</svg>
</body></html>
